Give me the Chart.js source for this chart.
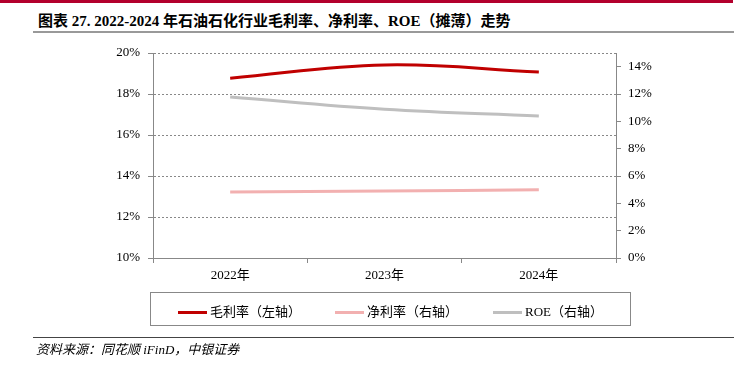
<!DOCTYPE html>
<html lang="zh">
<head>
  <meta charset="UTF-8" />
  <title>石油石化行业毛利率、净利率、ROE</title>
  <script src="https://cdn.jsdelivr.net/npm/chart.js"></script>
  <style>
    body {
      margin: 0;
      width: 750px;
      height: 368px;
      background: #fff;
      position: relative;
      overflow: hidden;
      font-family: "Liberation Serif", "Noto Sans CJK SC", serif;
    }
    #topbar {
      position: absolute; left: 0; top: 0; width: 733px; height: 3px;
      background: #b3002d;
    }
    #title {
      position: absolute; left: 38px; top: 9px;
      font-size: 15px; font-weight: bold; color: #000;
      white-space: nowrap;
    }
    #titleline {
      position: absolute; left: 33px; top: 31px; width: 701px; height: 2px;
      background: #999;
    }
    #chartbox {
      position: absolute; left: 0; top: 0; width: 750px; height: 368px;
    }
    #legend {
      position: absolute; left: 150px; top: 292px; width: 479px; height: 32px;
      border: 1px solid #888;
      font-size: 13px; color: #000;
    }
    .item { position: absolute; top: 8px; white-space: nowrap; }
    .item span {
      display: inline-block; width: 29px; height: 3px;
      vertical-align: middle; margin-right: 3px; position: relative; top: -1px;
    }
    #srcline {
      position: absolute; left: 33px; top: 337px; width: 701px; height: 1px;
      background: #444;
    }
    #source {
      position: absolute; left: 36px; top: 339px;
      font-size: 13px; font-style: italic; color: #000;
    }
  </style>
</head>
<body>
  <div id="topbar"></div>
  <div id="title">图表 27. 2022-2024 年石油石化行业毛利率、净利率、ROE（摊薄）走势</div>
  <div id="titleline"></div>
  <div id="chartbox"><canvas id="chart" width="750" height="368"></canvas></div>
  <div id="legend"></div>
  <div id="srcline"></div>
  <div id="source">资料来源：同花顺 iFinD，中银证券</div>

  <script>
    const years = ['2022年', '2023年', '2024年'];
    const grossMargin = [18.77, 19.42, 19.07];   // 左轴
    const netMargin = [4.83, 4.9, 5.0];          // 右轴
    const roe = [11.78, 10.88, 10.39];           // 右轴
    const rightTicks = [0, 2, 4, 6, 8, 10, 12, 14];

    const seriesNames = ['毛利率（左轴）', '净利率（右轴）', 'ROE（右轴）'];
    const seriesColors = ['#c00000', '#f2b0b0', '#bfbfbf'];
    const legendX = [27, 184, 342];

    const axisColor = '#888';
    const tickFont = { family: '"Liberation Serif", "Noto Sans CJK SC", serif', size: 13 };

    const legend = document.getElementById('legend');
    seriesNames.forEach((name, i) => {
      const d = document.createElement('div');
      d.className = 'item';
      d.style.left = legendX[i] + 'px';
      d.innerHTML = '<span style="background:' + seriesColors[i] + '"></span>' + name;
      legend.appendChild(d);
    });

    new Chart(document.getElementById('chart'), {
      type: 'line',
      data: {
        labels: years,
        datasets: [
          { label: seriesNames[0], data: grossMargin, yAxisID: 'yL' },
          { label: seriesNames[1], data: netMargin, yAxisID: 'yR' },
          { label: seriesNames[2], data: roe, yAxisID: 'yR' }
        ].map((ds, i) => Object.assign(ds, {
          borderColor: seriesColors[i],
          backgroundColor: seriesColors[i],
          borderWidth: 3,
          pointRadius: 0,
          tension: 0.4,
          fill: false
        }))
      },
      options: {
        responsive: false,
        animation: false,
        layout: { padding: { top: 53, bottom: 80, left: 0, right: 84 } },
        plugins: { legend: { display: false }, tooltip: { enabled: false } },
        scales: {
          x: {
            offset: true,
            grid: { offset: true, drawOnChartArea: false, color: axisColor, tickLength: 5 },
            border: { color: axisColor },
            ticks: { color: '#000', font: tickFont, padding: 5 },
            afterFit: s => { s.height = 30; }
          },
          yL: {
            position: 'left',
            min: 10, max: 20,
            grid: { color: axisColor, tickLength: 5 },
            border: { color: axisColor, dash: [2, 2] },
            ticks: { stepSize: 2, color: '#000', font: tickFont, padding: 8, callback: v => v + '%' },
            afterFit: s => { s.width = 153; }
          },
          yR: {
            position: 'right',
            min: 0, max: 15,
            grid: { drawOnChartArea: false, color: axisColor, tickLength: 5 },
            border: { color: axisColor },
            ticks: { color: '#000', font: tickFont, padding: 7, callback: v => v + '%' },
            afterBuildTicks: s => { s.ticks = rightTicks.map(v => ({ value: v })); },
            afterFit: s => { s.width = 50; }
          }
        }
      }
    });
  </script>
</body>
</html>
